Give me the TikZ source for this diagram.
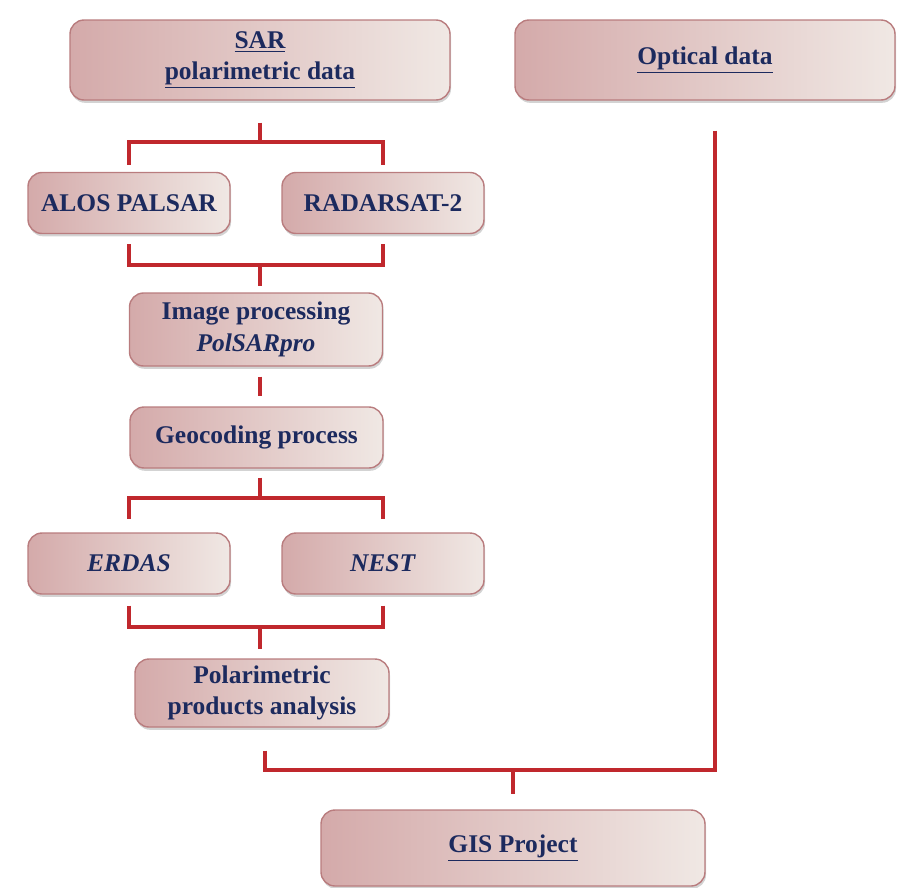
\documentclass[tikz,border=0pt]{standalone}
\usepackage{fontspec}
\setmainfont{Liberation Serif}
\usetikzlibrary{shadows}
\definecolor{boxpink}{HTML}{D4AAAA}
\definecolor{boxlight}{HTML}{F0E8E4}
\definecolor{boxline}{HTML}{B97C7E}
\definecolor{linkred}{HTML}{C0282D}
\definecolor{navy}{HTML}{1C2A5E}
\tikzset{
  box/.style={draw=boxline, line width=0.8pt, rounded corners=8pt,
    left color=boxpink, right color=boxlight,
    drop shadow={shadow xshift=0.6pt, shadow yshift=-1.6pt, opacity=0.35},
    align=center, text=navy, inner sep=2pt,
    font=\fontsize{14.5}{18}\selectfont\bfseries},
  link/.style={draw=linkred, line width=1.8pt}
}

\begin{document}
\begin{tikzpicture}
  \useasboundingbox (0,0) rectangle (17.98,-17.74);
  % boxes
  \node[box, minimum width=7.6cm, minimum height=1.6cm] (sar) at (5.2,-1.2) {\underline{SAR}\\ \underline{polarimetric data}};
  \node[box, minimum width=7.6cm, minimum height=1.6cm] (optical) at (14.1,-1.2) {\underline{Optical data}};
  \node[box, minimum width=4.04cm, minimum height=1.22cm] (alos) at (2.58,-4.06) {ALOS PALSAR};
  \node[box, minimum width=4.04cm, minimum height=1.22cm] (radarsat) at (7.66,-4.06) {RADARSAT-2};
  \node[box, minimum width=5.06cm, minimum height=1.46cm] (imgproc) at (5.12,-6.59) {Image processing\\ \textit{PolSARpro}};
  \node[box, minimum width=5.06cm, minimum height=1.22cm] (geocode) at (5.13,-8.75) {Geocoding process};
  \node[box, minimum width=4.04cm, minimum height=1.22cm] (erdas) at (2.58,-11.27) {\textit{ERDAS}};
  \node[box, minimum width=4.04cm, minimum height=1.22cm] (nest) at (7.66,-11.27) {\textit{NEST}};
  \node[box, minimum width=5.08cm, minimum height=1.36cm] (polar) at (5.24,-13.86) {Polarimetric\\ products analysis};
  \node[box, minimum width=7.68cm, minimum height=1.52cm] (gis) at (10.26,-16.96) {\underline{GIS Project}};
  % junctions
  \coordinate (b1) at (5.2,-2.84);
  \coordinate (b2) at (5.2,-5.3);
  \coordinate (b3) at (5.2,-9.96);
  \coordinate (b4) at (5.2,-12.54);
  \coordinate (b5) at (10.26,-15.4);
  % connectors
  \draw[link, shorten <=0.44cm] (sar.south) -- (b1);
  \draw[link, shorten >=0.14cm] (b1) -| (alos.north);
  \draw[link, shorten >=0.14cm] (b1) -| (radarsat.north);
  \draw[link, shorten <=0.2cm] (alos.south) |- (b2);
  \draw[link, shorten <=0.2cm] (radarsat.south) |- (b2);
  \draw[link, shorten >=0.12cm] (b2) -- (b2 |- imgproc.north);
  \draw[link, shorten <=0.2cm, shorten >=0.2cm] (imgproc.south -| b2) -- (geocode.north -| b2);
  \draw[link, shorten <=0.18cm] (geocode.south -| b3) -- (b3);
  \draw[link, shorten >=0.26cm] (b3) -| (erdas.north);
  \draw[link, shorten >=0.26cm] (b3) -| (nest.north);
  \draw[link, shorten <=0.22cm] (erdas.south) |- (b4);
  \draw[link, shorten <=0.22cm] (nest.south) |- (b4);
  \draw[link, shorten >=0.18cm] (b4) -- (b4 |- polar.north);
  \draw[link, shorten <=0.46cm] ([xshift=0.06cm]polar.south) |- (b5);
  \draw[link, shorten <=0.6cm] ([xshift=0.2cm]optical.south) |- (b5);
  \draw[link, shorten >=0.3cm] (b5) -- (gis.north);
\end{tikzpicture}
\end{document}
